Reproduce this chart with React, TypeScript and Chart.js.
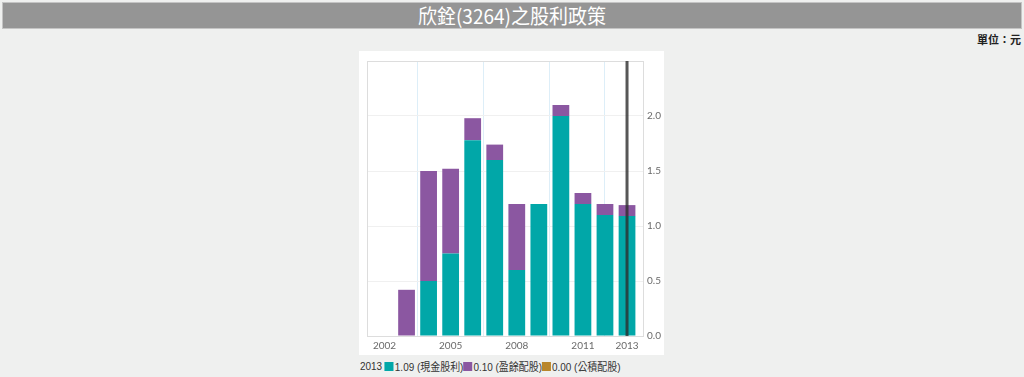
import React, { useEffect, useRef } from "react";
import { Chart, registerables } from "chart.js";

Chart.register(...registerables);

const years = [2002, 2003, 2004, 2005, 2006, 2007, 2008, 2009, 2010, 2011, 2012, 2013];
const cashDividend = [0, 0, 0.5, 0.75, 1.78, 1.6, 0.6, 1.2, 2.0, 1.2, 1.1, 1.09];
const stockDividend = [0, 0.42, 1.0, 0.77, 0.2, 0.14, 0.6, 0, 0.1, 0.1, 0.1, 0.1];
const capitalDividend = [0, 0, 0, 0, 0, 0, 0, 0, 0, 0, 0, 0];
const seriesNames = ["現金股利", "盈餘配股", "公積配股"];
const seriesColors = ["#01a7a8", "#8b57a1", "#b8862c"];
const xTickYears = [2002, 2005, 2008, 2011, 2013];
const yTickValues = [0, 0.5, 1.0, 1.5, 2.0, 2.5];
const selectedYear = 2013;
const titleText = "欣銓(3264)之股利政策";
const unitText = "單位：元";

const FONT = "Lato, 'Noto Sans CJK TC', sans-serif";

export default function App() {
  const canvasRef = useRef<HTMLCanvasElement | null>(null);

  useEffect(() => {
    const canvas = canvasRef.current;
    if (!canvas) return;
    const seriesValues = [cashDividend, stockDividend, capitalDividend];

    const borderPlugin = {
      id: "plotBorder",
      afterDatasetsDraw(chart: any) {
        const { ctx, chartArea } = chart;
        ctx.save();
        ctx.strokeStyle = "#dddddd";
        ctx.lineWidth = 1;
        ctx.strokeRect(
          Math.round(chartArea.left) + 0.5,
          Math.round(chartArea.top) + 0.5,
          Math.round(chartArea.right - chartArea.left) - 1,
          Math.round(chartArea.bottom - chartArea.top)
        );
        const x = chart.scales.x.getPixelForValue(selectedYear);
        ctx.strokeStyle = "rgba(45,45,45,0.8)";
        ctx.lineWidth = 3;
        ctx.beginPath();
        ctx.moveTo(x, chartArea.top);
        ctx.lineTo(x, chartArea.bottom);
        ctx.stroke();
        ctx.restore();
      },
    };

    const chart = new Chart(canvas, {
      type: "bar",
      data: {
        datasets: seriesNames.map((name, si) => ({
          label: name,
          data: years.map((yr, i) => ({ x: yr, y: seriesValues[si][i] })),
          backgroundColor: seriesColors[si],
          borderWidth: 0,
          barPercentage: 0.76,
          categoryPercentage: 1.0,
        })),
      },
      options: {
        responsive: false,
        maintainAspectRatio: false,
        animation: false,
        layout: { padding: { left: 8, top: 10, right: 0, bottom: 0 } },
        plugins: {
          legend: { display: false },
          tooltip: { enabled: false },
        },
        scales: {
          x: {
            type: "linear",
            stacked: true,
            min: 2001.206,
            max: 2013.77,
            offset: false,
            afterBuildTicks: (axis: any) => {
              axis.ticks = xTickYears.map((v) => ({ value: v }));
            },
            afterFit: (axis: any) => {
              axis.height = 19;
            },
            ticks: {
              autoSkip: false,
              maxRotation: 0,
              color: "#6a6a6a",
              padding: 4,
              font: { family: FONT, size: 10 },
              callback: (v: any) => String(v),
            },
            grid: { color: "#ddeef8", drawTicks: false },
            border: { display: false },
          },
          y: {
            position: "right",
            stacked: true,
            min: 0,
            max: 2.5,
            afterBuildTicks: (axis: any) => {
              axis.ticks = yTickValues.map((v) => ({ value: v }));
            },
            afterFit: (axis: any) => {
              axis.width = 20;
            },
            ticks: {
              color: "#6a6a6a",
              padding: 3,
              font: { family: FONT, size: 10 },
              callback: (v: any) => (v >= 2.5 ? "" : Number(v).toFixed(1)),
            },
            grid: { color: "#f0f0f0", drawTicks: false },
            border: { display: false },
          },
        },
      },
      plugins: [borderPlugin],
    } as any);

    return () => chart.destroy();
  }, []);

  const idx = years.indexOf(selectedYear);
  const legendValues = [cashDividend[idx], stockDividend[idx], capitalDividend[idx]];

  return (
    <div
      style={{
        position: "fixed",
        left: 0,
        top: 0,
        width: 1024,
        height: 377,
        background: "#eff0ef",
        overflow: "hidden",
      }}
    >
      <div
        style={{
          position: "absolute",
          left: 2,
          top: 2,
          width: 1018,
          height: 25,
          background: "#959595",
          border: "1px solid #c4c4c4",
          display: "flex",
          alignItems: "center",
          justifyContent: "center",
        }}
      >
        <span
          style={{
            color: "#ffffff",
            fontFamily: "'Noto Sans CJK TC', sans-serif",
            fontSize: 20,
            lineHeight: "25px",
            display: "inline-block",
            transform: "scaleX(0.95)",
            whiteSpace: "nowrap",
          }}
        >
          {titleText}
        </span>
      </div>
      <div
        style={{
          position: "absolute",
          right: 3,
          top: 31,
          fontFamily: "'Noto Sans CJK TC', sans-serif",
          fontSize: 11,
          fontWeight: "bold",
          color: "#222",
          whiteSpace: "nowrap",
        }}
      >
        {unitText}
      </div>
      <div
        style={{
          position: "absolute",
          left: 359,
          top: 51,
          width: 305,
          height: 304,
          background: "#ffffff",
        }}
      >
        <canvas ref={canvasRef} width={305} height={304} style={{ display: "block" }} />
      </div>
      <div
        style={{
          position: "absolute",
          left: 360,
          top: 358,
          fontFamily: "'Liberation Sans', 'Noto Sans CJK TC', sans-serif",
          fontSize: 11,
          color: "#333",
          whiteSpace: "nowrap",
          display: "flex",
          alignItems: "center",
          transform: "scaleX(0.905)",
          transformOrigin: "left center",
        }}
      >
        <span style={{ marginRight: 3 }}>{selectedYear}</span>
        {seriesNames.map((name, i) => (
          <React.Fragment key={name}>
            <span
              style={{
                display: "inline-block",
                width: 10,
                height: 9,
                background: seriesColors[i],
                marginRight: 1,
              }}
            />
            <span>{`${legendValues[i].toFixed(2)} (${name})`}</span>
          </React.Fragment>
        ))}
      </div>
    </div>
  );
}
